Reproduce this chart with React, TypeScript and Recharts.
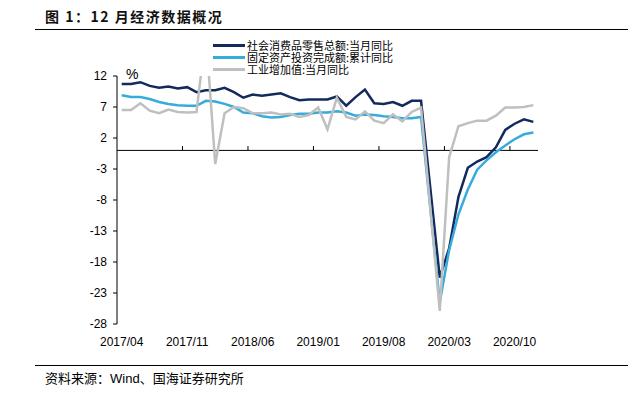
import { LineChart, Line, XAxis, YAxis, ReferenceLine } from 'recharts';

const months = [
  '2017/04', '2017/05', '2017/06', '2017/07', '2017/08', '2017/09', '2017/10', '2017/11', '2017/12',
  '2018/01', '2018/02', '2018/03', '2018/04', '2018/05', '2018/06', '2018/07', '2018/08', '2018/09', '2018/10', '2018/11', '2018/12',
  '2019/01', '2019/02', '2019/03', '2019/04', '2019/05', '2019/06', '2019/07', '2019/08', '2019/09', '2019/10', '2019/11', '2019/12',
  '2020/01', '2020/02', '2020/03', '2020/04', '2020/05', '2020/06', '2020/07', '2020/08', '2020/09', '2020/10', '2020/11', '2020/12',
];

// 社会消费品零售总额:当月同比
const retail = [
  10.7, 10.7, 11.0, 10.4, 10.1, 10.3, 10.0, 10.2, 9.4,
  9.7, 9.7, 10.1, 9.4, 8.5, 9.0, 8.8, 9.0, 9.2, 8.6, 8.1, 8.2,
  8.2, 8.2, 8.7, 7.2, 8.6, 9.8, 7.6, 7.5, 7.8, 7.2, 8.0, 8.0,
  null, -20.5, -15.8, -7.5, -2.8, -1.8, -1.1, 0.5, 3.3, 4.3, 5.0, 4.6,
];

// 固定资产投资完成额:累计同比
const fai = [
  8.9, 8.6, 8.6, 8.3, 7.8, 7.5, 7.3, 7.2, 7.2,
  8.0, 7.9, 7.5, 7.0, 6.1, 6.0, 5.5, 5.3, 5.4, 5.7, 5.9, 5.9,
  6.1, 6.1, 6.3, 6.1, 5.6, 5.8, 5.7, 5.5, 5.4, 5.2, 5.2, 5.4,
  null, -24.5, -16.1, -10.3, -6.3, -3.1, -1.6, -0.3, 0.8, 1.8, 2.6, 2.9,
];

// 工业增加值:当月同比
const iva = [
  6.5, 6.5, 7.6, 6.4, 6.0, 6.6, 6.2, 6.1, 6.2,
  19.0, -2.2, 6.0, 7.0, 6.8, 6.0, 6.0, 6.1, 5.8, 5.9, 5.4, 5.7,
  6.9, 3.4, 8.5, 5.4, 5.0, 6.3, 4.8, 4.4, 5.8, 4.7, 6.2, 6.9,
  null, -25.9, -1.1, 3.9, 4.4, 4.8, 4.8, 5.6, 6.9, 6.9, 7.0, 7.3,
];

const yTicks = [12, 7, 2, -3, -8, -13, -18, -23, -28];
const xTicks = [0, 7, 14, 21, 28, 35, 42];
const boundaries = [6.5, 13.5, 20.5, 27.5, 34.5, 41.5];

const series = [
  { key: 'retail', name: '社会消费品零售总额:当月同比', color: '#132a5c' },
  { key: 'fai', name: '固定资产投资完成额:累计同比', color: '#35acdb' },
  { key: 'iva', name: '工业增加值:当月同比', color: '#bfbfbf' },
];

const data = months.map((m, i) => ({ idx: i, month: m, retail: retail[i], fai: fai[i], iva: iva[i] }));

const num = '"Liberation Sans", Arial, sans-serif';
const cjk = '"Noto Sans CJK SC", "Liberation Sans", sans-serif';

export default function App() {
  return (
    <div style={{ position: 'absolute', left: 0, top: 0, width: 628, height: 399, background: '#fff', fontFamily: cjk }}>
      <div style={{ position: 'absolute', left: 45, top: 6, fontSize: 14, fontWeight: 700, letterSpacing: 1.5, lineHeight: '20px', color: '#111' }}>
        图 1：12 月经济数据概况
      </div>
      <div style={{ position: 'absolute', left: 35, right: 0, top: 29, borderTop: '1.5px solid #000' }} />

      <div style={{ position: 'absolute', left: 213, top: 39 }}>
        {series.map((s) => (
          <div key={s.key} style={{ display: 'flex', alignItems: 'center', height: 12 }}>
            <div style={{ width: 32, height: 3, background: s.color, marginRight: 2 }} />
            <span style={{ fontSize: 11, lineHeight: '12px', color: '#000', whiteSpace: 'nowrap' }}>{s.name}</span>
          </div>
        ))}
      </div>

      <div style={{ position: 'absolute', left: 126, top: 66, fontSize: 14, fontFamily: num, color: '#000' }}>%</div>

      <LineChart width={628} height={399} data={data} margin={{ top: 76, right: 90, bottom: 45, left: 77 }}>
        <XAxis
          dataKey="idx"
          type="number"
          domain={[-0.5, 44.5]}
          ticks={xTicks}
          tickFormatter={(i) => months[i]}
          axisLine={false}
          tickLine={false}
          tickMargin={7}
          height={30}
          interval={0}
          tick={{ fontSize: 12, fill: '#000', fontFamily: num }}
        />
        <YAxis
          domain={[-28, 12]}
          ticks={yTicks}
          allowDataOverflow
          width={40}
          interval={0}
          tickSize={4}
          tickMargin={6}
          axisLine={{ stroke: '#000' }}
          tickLine={{ stroke: '#000' }}
          tick={{ fontSize: 12, fill: '#000', fontFamily: num }}
        />
        <ReferenceLine y={0} stroke="#000" strokeWidth={1} />
        {boundaries.map((b) => (
          <ReferenceLine key={b} segment={[{ x: b, y: 0 }, { x: b, y: 0.7 }]} stroke="#000" strokeWidth={1} />
        ))}
        {series.map((s) => (
          <Line
            key={s.key}
            type="linear"
            dataKey={s.key}
            name={s.name}
            stroke={s.color}
            strokeWidth={2.5}
            dot={false}
            connectNulls
            isAnimationActive={false}
          />
        ))}
      </LineChart>

      <div style={{ position: 'absolute', left: 35, right: 0, top: 365, borderTop: '1.5px solid #000' }} />
      <div style={{ position: 'absolute', left: 45, top: 369, fontSize: 13, lineHeight: '18px', color: '#000' }}>
        资料来源：<span style={{ fontFamily: num }}>Wind</span>、国海证券研究所
      </div>
    </div>
  );
}
